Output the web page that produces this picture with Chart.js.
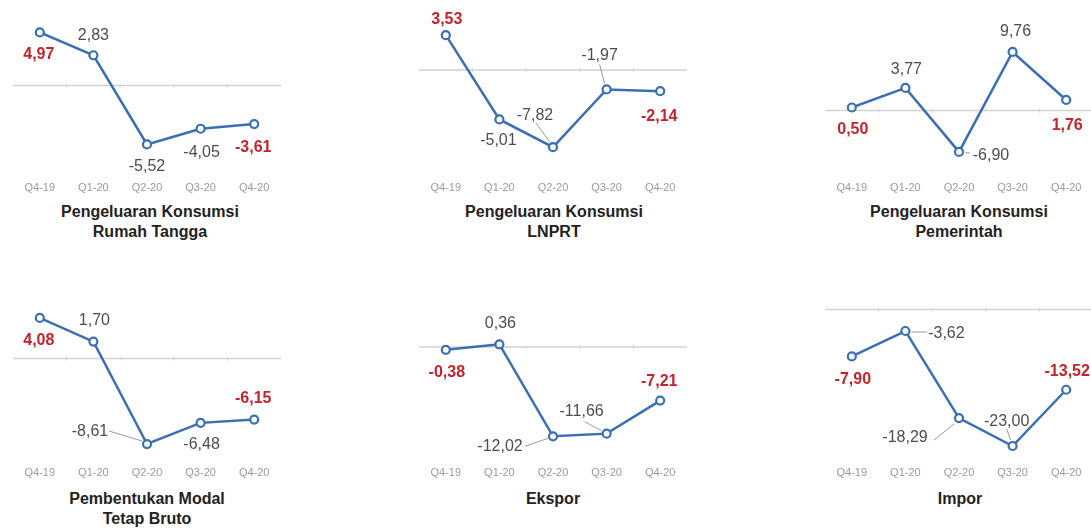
<!DOCTYPE html>
<html>
<head>
    <title>Pertumbuhan Komponen PDB Pengeluaran</title>
    <script src="https://cdn.jsdelivr.net/npm/chart.js"></script>
    <style>
        body {
            margin: 0;
            width: 1091px;
            height: 528px;
            overflow: hidden;
            background: #fff;
            position: relative;
            font-family: 'Liberation Sans', Arial, sans-serif;
        }
        canvas {
            position: absolute;
        }
        .judul {
            position: absolute;
            width: 300px;
            text-align: center;
            font-weight: bold;
            font-size: 16px;
            line-height: 20px;
            color: #222;
        }
    </style>
</head>
<body>
    <canvas id="c1" width="300" height="200" style="left:0px;top:0px"></canvas>
    <canvas id="c2" width="300" height="200" style="left:405px;top:0px"></canvas>
    <canvas id="c3" width="300" height="200" style="left:811px;top:0px"></canvas>
    <canvas id="c4" width="300" height="200" style="left:0px;top:285px"></canvas>
    <canvas id="c5" width="300" height="200" style="left:405px;top:285px"></canvas>
    <canvas id="c6" width="300" height="200" style="left:811px;top:285px"></canvas>

    <div class="judul" style="left:0px;top:202px">Pengeluaran Konsumsi<br>Rumah Tangga</div>
    <div class="judul" style="left:404px;top:202px">Pengeluaran Konsumsi<br>LNPRT</div>
    <div class="judul" style="left:809px;top:202px">Pengeluaran Konsumsi<br>Pemerintah</div>
    <div class="judul" style="left:-3px;top:489px">Pembentukan Modal<br>Tetap Bruto</div>
    <div class="judul" style="left:403px;top:489px">Ekspor</div>
    <div class="judul" style="left:810px;top:489px">Impor</div>

    <script>
        // data (pertumbuhan y-on-y, persen)
        const quarters = ['Q4-19', 'Q1-20', 'Q2-20', 'Q3-20', 'Q4-20'];
        const rumahTangga = [4.97, 2.83, -5.52, -4.05, -3.61];
        const lnprt = [3.53, -5.01, -7.82, -1.97, -2.14];
        const pemerintah = [0.50, 3.77, -6.90, 9.76, 1.76];
        const pmtb = [4.08, 1.70, -8.61, -6.48, -6.15];
        const ekspor = [-0.38, 0.36, -12.02, -11.66, -7.21];
        const impor = [-7.90, -3.62, -18.29, -23.00, -13.52];

        const FONT = "'Liberation Sans', Arial, sans-serif";
        const BLUE = '#3a6fb3';
        const RED = '#c1242b';

        // zero line with small marks between the quarters
        const zeroLine = {
            id: 'zeroLine',
            beforeDatasetsDraw(chart) {
                const { ctx, chartArea } = chart;
                const y = chart.scales.y.getPixelForValue(0);
                const step = (chartArea.right - chartArea.left) / quarters.length;
                ctx.save();
                ctx.strokeStyle = '#d2d2d2';
                ctx.lineWidth = 1.5;
                ctx.beginPath();
                ctx.moveTo(chartArea.left, y);
                ctx.lineTo(chartArea.right, y);
                ctx.stroke();
                ctx.lineWidth = 1;
                for (let i = 1; i < quarters.length; i++) {
                    const x = chartArea.left + i * step;
                    ctx.beginPath();
                    ctx.moveTo(x, y - 2);
                    ctx.lineTo(x, y + 2);
                    ctx.stroke();
                }
                ctx.restore();
            }
        };

        // value labels next to each point, first and last in red bold
        const valueLabels = {
            id: 'valueLabels',
            afterDatasetsDraw(chart, args, opts) {
                const { ctx } = chart;
                const meta = chart.getDatasetMeta(0);
                const values = chart.data.datasets[0].data;
                ctx.save();
                ctx.textAlign = 'center';
                ctx.textBaseline = 'middle';
                meta.data.forEach((pt, i) => {
                    const leader = opts.leaders[i];
                    if (leader) {
                        ctx.strokeStyle = '#9a9a9a';
                        ctx.lineWidth = 1;
                        ctx.beginPath();
                        ctx.moveTo(pt.x + leader[0], pt.y + leader[1]);
                        ctx.lineTo(pt.x + leader[2], pt.y + leader[3]);
                        ctx.stroke();
                    }
                    const edge = i === 0 || i === values.length - 1;
                    ctx.font = (edge ? 'bold ' : '') + '16px ' + FONT;
                    ctx.fillStyle = edge ? RED : '#4d4d4d';
                    const off = opts.offsets[i];
                    ctx.fillText(values[i].toFixed(2).replace('.', ','), pt.x + off[0], pt.y + off[1]);
                });
                ctx.restore();
            }
        };

        function drawPanel(id, values, yMin, yMax, padLeft, offsets, leaders) {
            const ctx = document.getElementById(id).getContext('2d');
            new Chart(ctx, {
                type: 'line',
                data: {
                    labels: quarters,
                    datasets: [{
                        data: values,
                        borderColor: BLUE,
                        borderWidth: 2.5,
                        pointRadius: 4,
                        pointBorderWidth: 2.2,
                        pointBackgroundColor: '#fff',
                        pointBorderColor: BLUE,
                        tension: 0,
                        clip: false
                    }]
                },
                options: {
                    responsive: false,
                    animation: false,
                    layout: {
                        padding: { left: padLeft, right: 300 - padLeft - 268, top: 10, bottom: 2 }
                    },
                    scales: {
                        x: {
                            offset: true,
                            grid: { display: false, drawTicks: false },
                            border: { display: false },
                            ticks: {
                                color: '#9a9a9a',
                                padding: 3,
                                maxRotation: 0,
                                autoSkip: false,
                                font: { size: 11, family: FONT }
                            }
                        },
                        y: { display: false, min: yMin, max: yMax }
                    },
                    plugins: {
                        legend: { display: false },
                        tooltip: { enabled: false },
                        valueLabels: { offsets: offsets, leaders: leaders }
                    }
                },
                plugins: [zeroLine, valueLabels]
            });
        }

        drawPanel('c1', rumahTangga, -8.74, 7.07, 13,
            [[-1, 22], [0, -20], [0, 22], [1, 24], [-1, 24]],
            [null, null, null, null, null]);

        drawPanel('c2', lnprt, -11.02, 6.08, 14,
            [[1, -16], [-1, 21], [-18, -32], [-7, -34], [-1, 25]],
            [null, null, [-17, -24, -3, -5], [-7, -25, -2, -6], null]);

        drawPanel('c3', pemerintah, -11.38, 16.75, 14,
            [[1, 22], [1, -18], [32, 4], [3, -20], [1, 26]],
            [null, null, [6, 1, 11, 1], null, null]);

        drawPanel('c4', pmtb, -10.6, 6.39, 13,
            [[-1, 23], [1, -21], [-57, -12], [1, 22], [-1, -21]],
            [null, null, [-38, -13, -5, -3], null, null]);

        drawPanel('c5', ekspor, -15.72, 7.0, 14,
            [[1, 23], [1, -21], [-53, 10], [-25, -22], [-1, -19]],
            [null, null, [-28, 10, -5, 2], [-22, -12, -5, -3], null]);

        drawPanel('c6', impor, -26.0, 2.45, 14,
            [[1, 23], [41, 3], [-54, 20], [-6, -24], [1, -18]],
            [null, [6, 1, 22, 1], [-25, 22, -5, 6], [-6, -17, -2, -6], null]);
    </script>
</body>
</html>
